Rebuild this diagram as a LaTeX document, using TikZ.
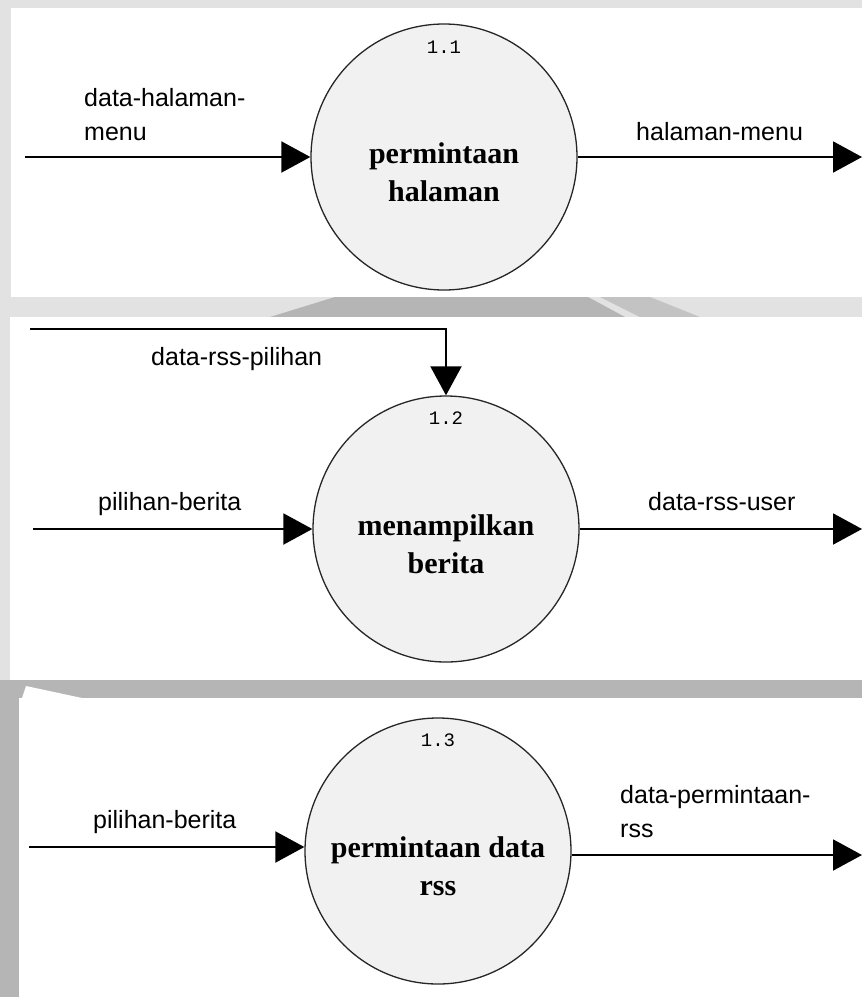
\documentclass[tikz,border=0pt]{standalone}
\usepackage{fontspec}
\setmainfont{Liberation Serif}
\setsansfont{Liberation Sans}
\setmonofont{Liberation Mono}
\usetikzlibrary{arrows.meta,calc}
\definecolor{wmdark}{HTML}{B5B5B5}
\definecolor{wmlight}{HTML}{E2E2E2}
\definecolor{bubble}{HTML}{F1F1F1}

\begin{document}
\begin{tikzpicture}[x=1pt,y=-1pt,
  panel/.style={fill=white,draw=none},
  process/.style={circle,draw=black!85,line width=1.3pt,fill=bubble,
    minimum size=266pt,inner sep=0pt},
  procname/.style={font=\fontsize{30}{38}\selectfont\bfseries,
    align=center,inner sep=0pt,anchor=base},
  procnum/.style={font=\fontsize{19}{22}\selectfont\ttfamily,
    inner sep=0pt,anchor=base},
  flowlabel/.style={font=\fontsize{25}{34}\selectfont\sffamily,
    align=left,inner sep=0pt,anchor=base west},
  flow/.style={line width=2pt,-{Triangle[length=29pt,width=31pt]}}]

\useasboundingbox (0,0) rectangle (862,997);

% page background and the gaps between the three sheets
\fill[wmlight] (0,0) rectangle (862,997);
\fill[wmdark] (270,317) -- (335,297) -- (588,297) -- (625,317) -- cycle;
\fill[wmdark!70!wmlight] (640,317) -- (600,297) -- (650,297) -- (700,317) -- cycle;
\fill[wmdark] (0,680) rectangle (862,698);
\fill[white] (22,698) -- (26,686) -- (82,698) -- cycle;
\fill[wmdark] (0,698) rectangle (19,997);

% the three sheets
\fill[panel] (11,8) rectangle (862,297);
\fill[panel] (10,317) rectangle (862,680);
\fill[panel] (19,698) rectangle (862,997);

% ---------- process 1.1 ----------
% (a multi-line node's base anchor sits on its last line)
\node[process] (p1) at (444,157) {};
\node[procnum] (n1) at ($(p1.north)+(0,30)$) {1.1};
\node[procname] (t1) at ($(p1.center)+(0,44)$) {permintaan\\halaman};
\coordinate (in1) at (25,157);
\coordinate (out1) at (862,157);
\draw[flow] (in1) -- (p1.west);
\draw[flow] (p1.east) -- (out1);
\node[flowlabel] (l1a) at (84,140) {data-halaman-\\menu};
\node[flowlabel] (l1b) at (636,140) {halaman-menu};

% ---------- process 1.2 ----------
\node[process] (p2) at (446,529) {};
\node[procnum] (n2) at ($(p2.north)+(0,29)$) {1.2};
\node[procname] (t2) at ($(p2.center)+(0,44)$) {menampilkan\\berita};
\coordinate (top2) at (30,329);
\coordinate (in2) at (33,529);
\coordinate (out2) at (862,529);
\draw[flow] (top2) -| (p2.north);
\draw[flow] (in2) -- (p2.west);
\draw[flow] (p2.east) -- (out2);
\node[flowlabel] (l2a) at (151,365) {data-rss-pilihan};
\node[flowlabel] (l2b) at (98,510) {pilihan-berita};
\node[flowlabel] (l2c) at (648,510) {data-rss-user};

% ---------- process 1.3 ----------
\node[process] (p3) at (438,851) {};
\node[procnum] (n3) at ($(p3.north)+(0,29)$) {1.3};
\node[procname] (t3) at ($(p3.center)+(0,44)$) {permintaan data\\rss};
\coordinate (in3) at (29,847);
\coordinate (out3) at (862,855);
\draw[flow] (in3) -- (in3 -| p3.west);
\draw[flow] (out3 -| p3.east) -- (out3);
\node[flowlabel] (l3a) at (93,828) {pilihan-berita};
\node[flowlabel] (l3b) at (620,837) {data-permintaan-\\rss};

\end{tikzpicture}
\end{document}
